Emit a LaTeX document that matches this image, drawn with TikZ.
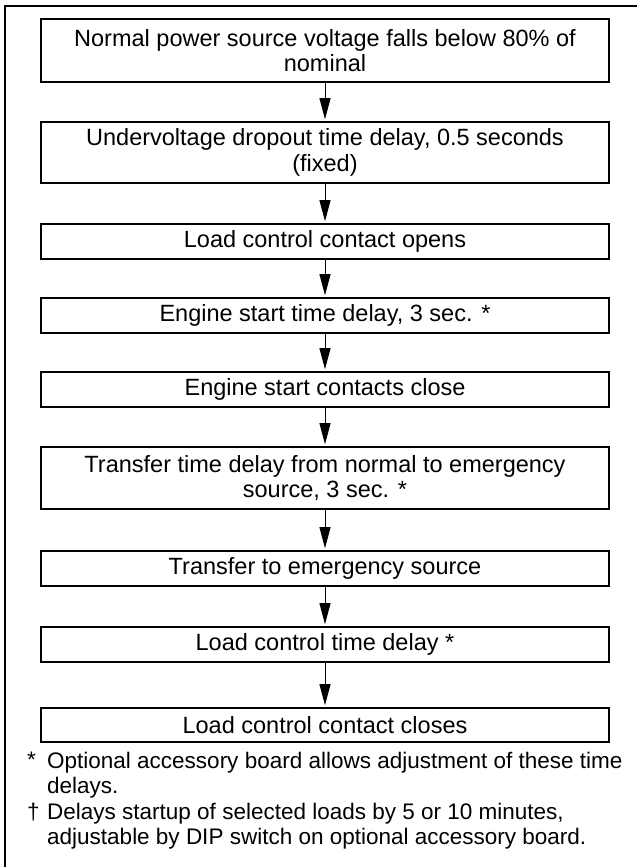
\documentclass[tikz,border=0pt]{standalone}
\usepackage{fontspec}
\setmainfont{Liberation Sans}
\usetikzlibrary{arrows.meta}

\begin{document}
\begin{tikzpicture}[x=1pt,y=-1pt,
    stepbox/.style={draw,line width=1.6pt,minimum width=568pt,inner sep=0pt,align=center,font=\fontsize{23.5}{25.5}\selectfont},
    flow/.style={line width=1pt,-{Triangle[length=21pt,width=11pt]},shorten >=2pt},
    note/.style={inner sep=0pt,align=left,font=\fontsize{22.5}{24.5}\selectfont}]
    \useasboundingbox (0,0) rectangle (637,867);
    \draw[line width=1.8pt] (5,867) -- (5,6) -- (637,6);
    % steps
    \node[stepbox,minimum height=63pt] (b1) at (325,50.5) {Normal power source voltage falls below 80\% of\\nominal};
    \node[stepbox,minimum height=61pt] (b2) at (325,152.5) {Undervoltage dropout time delay, 0.5 seconds\\(fixed)};
    \node[stepbox,minimum height=35pt] (b3) at (325,241.5) {Load control contact opens};
    \node[stepbox,minimum height=35pt] (b4) at (325,315.5) {Engine start time delay, 3 sec. *};
    \node[stepbox,minimum height=35pt] (b5) at (325,389.5) {Engine start contacts close};
    \node[stepbox,minimum height=62pt] (b6) at (325,478) {Transfer time delay from normal to emergency\\source, 3 sec. *};
    \node[stepbox,minimum height=35pt] (b7) at (325,568.5) {Transfer to emergency source};
    \node[stepbox,minimum height=35pt] (b8) at (325,644.5) {Load control time delay *};
    \node[stepbox,minimum height=34pt] (b9) at (325,725) {Load control contact closes};
    \foreach \a/\b in {b1/b2,b2/b3,b3/b4,b4/b5,b5/b6,b6/b7,b7/b8,b8/b9}
        \draw[flow] (\a) -- (\b);
    % notes
    \node[note,anchor=north west] (s1) at (27,752) {*};
    \node[note,anchor=north west] (n1) at (47,752) {Optional accessory board allows adjustment of these time\\delays.};
    \node[note,anchor=north west] (s2) at (27,803) {†};
    \node[note,anchor=north west] (n2) at (47,803) {Delays startup of selected loads by 5 or 10 minutes,\\adjustable by DIP switch on optional accessory board.};
\end{tikzpicture}
\end{document}
